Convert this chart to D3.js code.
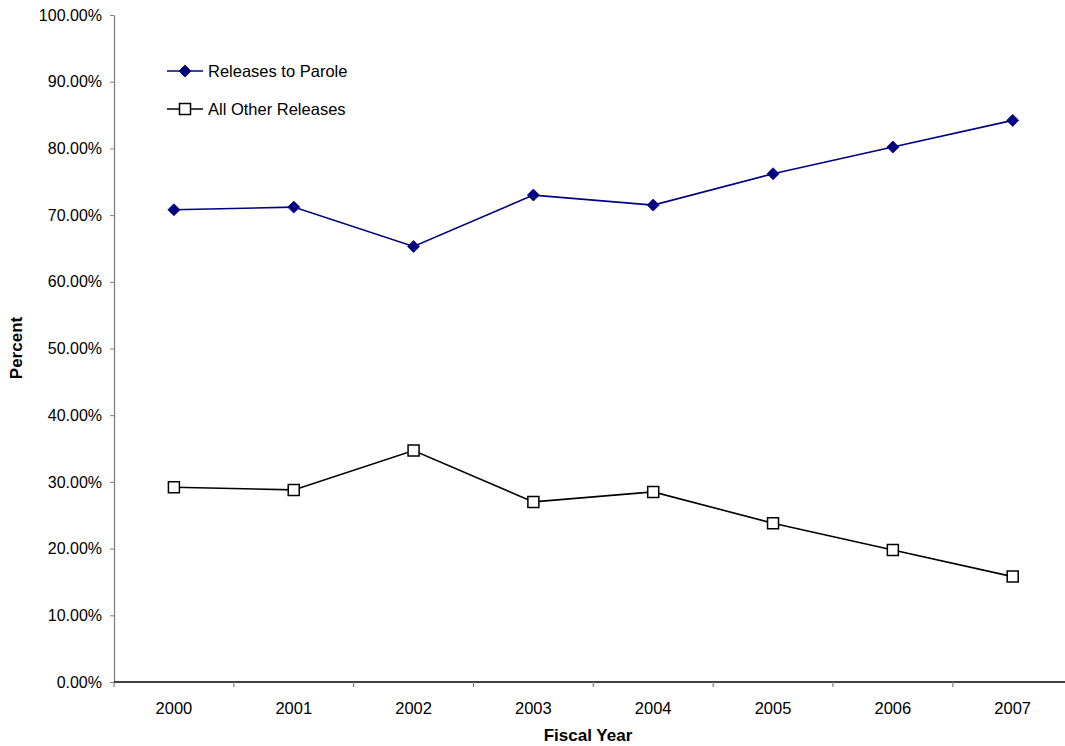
<!DOCTYPE html>
<html>
<head>
<meta charset="utf-8">
<script src="https://cdn.jsdelivr.net/npm/d3@7"></script>
<style>
  html, body { margin: 0; padding: 0; background: #fff; }
  svg { display: block; font-family: "Liberation Sans", Arial, sans-serif; }
</style>
</head>
<body>
<svg id="chart" width="1065" height="746"></svg>
<script>
// Fiscal years on the category axis
const years = ["2000", "2001", "2002", "2003", "2004", "2005", "2006", "2007"];
// Share of releases (percent) by release type
const paroleValues = [70.8, 71.2, 65.3, 73.0, 71.5, 76.2, 80.2, 84.2];
const otherValues  = [29.2, 28.8, 34.7, 27.0, 28.5, 23.8, 19.8, 15.8];
// Value axis ticks
const yTicks = [0, 10, 20, 30, 40, 50, 60, 70, 80, 90, 100];
const seriesNames = ["Releases to Parole", "All Other Releases"];

(function () {
  const svg = d3.select("#chart");
  const plotLeft = 114, plotRight = 1072.6, plotTop = 15, plotBottom = 682;

  const x = d3.scaleBand().domain(years).range([plotLeft, plotRight]);
  const y = d3.scaleLinear().domain([0, 100]).range([plotBottom, plotTop]);
  const cx = d => x(d) + x.bandwidth() / 2;

  // Value axis
  const yAxis = svg.append("g")
    .attr("transform", `translate(${plotLeft},0)`)
    .call(d3.axisLeft(y).tickValues(yTicks).tickSize(4).tickSizeOuter(0)
      .tickFormat(d => d.toFixed(2) + "%"));
  yAxis.select(".domain").attr("stroke", "#808080").attr("stroke-width", 1.3);
  yAxis.selectAll(".tick line").attr("stroke", "#808080");
  yAxis.selectAll(".tick text").attr("font-size", 16).attr("fill", "#000")
    .attr("x", -12).attr("font-family", "Liberation Sans, Arial, sans-serif");

  // Category axis: ticks sit on band boundaries, labels at band centres
  const xg = svg.append("g");
  xg.append("line")
    .attr("x1", plotLeft).attr("x2", plotRight).attr("y1", plotBottom).attr("y2", plotBottom)
    .attr("stroke", "#000").attr("stroke-width", 1.5);
  const bounds = years.map(d => x(d)).concat([plotRight]);
  xg.selectAll("line.tk").data(bounds).join("line").attr("class", "tk")
    .attr("x1", d => d).attr("x2", d => d)
    .attr("y1", plotBottom).attr("y2", plotBottom + 5)
    .attr("stroke", "#808080").attr("stroke-width", 1.2);
  xg.selectAll("text").data(years).join("text")
    .attr("x", d => cx(d)).attr("y", 714)
    .attr("text-anchor", "middle").attr("font-size", 16.5).attr("fill", "#000")
    .text(d => d);

  // Axis titles
  svg.append("text").attr("x", 588).attr("y", 741)
    .attr("text-anchor", "middle").attr("font-size", 17).attr("font-weight", "bold")
    .text("Fiscal Year");
  svg.append("text").attr("transform", "translate(22,348) rotate(-90)")
    .attr("text-anchor", "middle").attr("font-size", 17).attr("font-weight", "bold")
    .text("Percent");

  const line = d3.line().x(d => cx(d.year)).y(d => y(d.v));
  const paroleData = years.map((yr, i) => ({ year: yr, v: paroleValues[i] }));
  const otherData = years.map((yr, i) => ({ year: yr, v: otherValues[i] }));

  const diamondPath = "M0,-6L6,0L0,6L-6,0Z";
  const squarePath = "M-5.5,-5.5H5.5V5.5H-5.5Z";

  // Releases to Parole
  svg.append("path").datum(paroleData).attr("d", line)
    .attr("fill", "none").attr("stroke", "#000080").attr("stroke-width", 1.6);
  svg.selectAll("path.pm").data(paroleData).join("path").attr("class", "pm")
    .attr("d", diamondPath)
    .attr("transform", d => `translate(${cx(d.year)},${y(d.v)})`)
    .attr("fill", "#000080").attr("stroke", "#000080").attr("stroke-width", 0.8);

  // All other releases
  svg.append("path").datum(otherData).attr("d", line)
    .attr("fill", "none").attr("stroke", "#000").attr("stroke-width", 1.6);
  svg.selectAll("path.om").data(otherData).join("path").attr("class", "om")
    .attr("d", squarePath)
    .attr("transform", d => `translate(${cx(d.year)},${y(d.v)})`)
    .attr("fill", "#fff").attr("stroke", "#000").attr("stroke-width", 1.5);

  // Legend
  const legend = svg.append("g");
  const legendRows = [
    { name: seriesNames[0], color: "#000080", shape: diamondPath, fill: "#000080", sw: 0.8, y: 71 },
    { name: seriesNames[1], color: "#000", shape: squarePath, fill: "#fff", sw: 1.5, y: 109 }
  ];
  legendRows.forEach(r => {
    legend.append("line").attr("x1", 167).attr("x2", 203).attr("y1", r.y).attr("y2", r.y)
      .attr("stroke", r.color).attr("stroke-width", 1.6);
    legend.append("path").attr("d", r.shape).attr("transform", `translate(185,${r.y})`)
      .attr("fill", r.fill).attr("stroke", r.color).attr("stroke-width", r.sw);
    legend.append("text").attr("x", 208).attr("y", r.y + 6)
      .attr("font-size", 16.5).attr("fill", "#000").text(r.name);
  });
})();
</script>
</body>
</html>
